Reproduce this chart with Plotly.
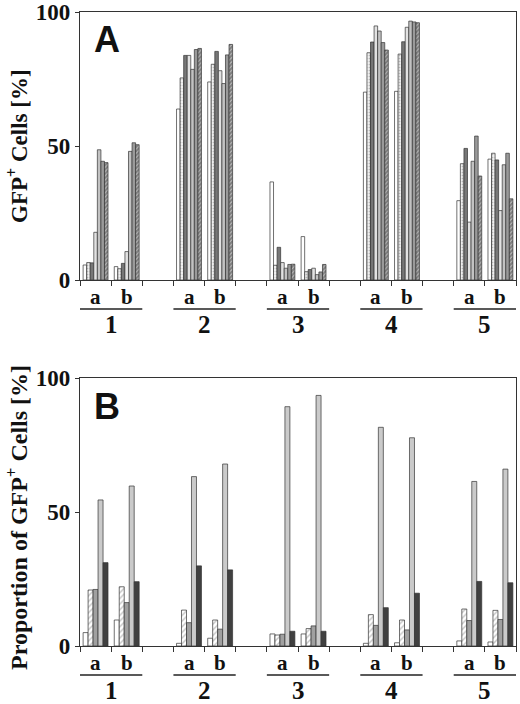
import plotly.graph_objects as go

# categorias: grupos 1-5, cada uno con subgrupos a y b
grupos = ['1', '2', '3', '4', '5']
subgrupos = ['a', 'b']

# Panel A: GFP+ Cells [%] (orden 1a,1b,2a,2b,...,5b)
a_bar1 = [5.6, 5.0, 63.8, 73.9, 36.6, 16.2, 70.1, 70.4, 29.6, 45.1]
a_bar2 = [6.5, 4.2, 75.4, 80.5, 5.5, 3.1, 84.8, 84.3, 43.4, 47.3]
a_bar3 = [6.4, 6.2, 83.8, 85.3, 12.2, 3.9, 88.8, 88.9, 49.1, 44.8]
a_bar4 = [17.8, 10.6, 83.8, 78.1, 6.5, 4.4, 94.8, 94.3, 21.6, 25.9]
a_bar5 = [48.6, 48.0, 78.6, 73.3, 4.4, 2.0, 92.9, 96.6, 44.3, 43.0]
a_bar6 = [44.3, 51.2, 86.0, 84.0, 5.8, 3.0, 88.6, 96.3, 53.7, 47.3]
a_bar7 = [43.8, 50.5, 86.4, 87.9, 5.9, 5.8, 85.8, 96.0, 38.8, 30.3]

# Panel B: Proportion of GFP+ Cells [%]
b_bar1 = [5.0, 9.7, 1.0, 2.9, 4.5, 4.5, 1.0, 1.2, 1.9, 1.5]
b_bar2 = [20.9, 22.1, 13.4, 9.7, 4.1, 6.5, 11.7, 9.7, 13.8, 13.3]
b_bar3 = [21.1, 16.2, 8.7, 6.3, 4.4, 7.5, 7.7, 6.0, 9.5, 9.9]
b_bar4 = [54.5, 59.7, 63.2, 67.9, 89.3, 93.5, 81.6, 77.7, 61.4, 66.0]
b_bar5 = [31.1, 24.0, 29.9, 28.4, 5.5, 5.5, 14.3, 19.7, 24.1, 23.6]

W, H = 520, 704
# posicion de cada subgrupo: 3 ranuras por grupo (a, b, hueco)
xpos = [3 * g + s + 0.5 for g in range(len(grupos)) for s in range(len(subgrupos))]

edge = dict(color='#333', width=0.7)
estilos_a = [
    dict(color='white'),
    dict(color='#f4f4f4', pattern=dict(shape='.', fgcolor='#777', size=3, solidity=0.3)),
    dict(color='#777777'),
    dict(color='#e2e2e2'),
    dict(color='#c2c2c2'),
    dict(color='#9a9a9a'),
    dict(color='white', pattern=dict(shape='/', fgcolor='#000', size=3, solidity=0.85)),
]
estilos_b = [
    dict(color='white'),
    dict(color='white', pattern=dict(shape='/', fgcolor='#888', size=4, solidity=0.35)),
    dict(color='#a0a0a0'),
    dict(color='#cacaca'),
    dict(color='#404040'),
]

fig = go.Figure()
for vals, st in zip([a_bar1, a_bar2, a_bar3, a_bar4, a_bar5, a_bar6, a_bar7], estilos_a):
    fig.add_trace(go.Bar(x=xpos, y=vals, marker=dict(line=edge, **st),
                         xaxis='x', yaxis='y', showlegend=False))
for vals, st in zip([b_bar1, b_bar2, b_bar3, b_bar4, b_bar5], estilos_b):
    fig.add_trace(go.Bar(x=xpos, y=vals, marker=dict(line=edge, **st),
                         xaxis='x2', yaxis='y2', showlegend=False))

serif = 'Liberation Serif'
ejex = dict(range=[0, 14], tickvals=list(range(15)), ticks='outside', ticklen=5,
            tickwidth=1.2, tickcolor='#333', showticklabels=False, showgrid=False,
            zeroline=False, showline=True, linecolor='#333', linewidth=1.3, mirror=True,
            automargin=False, domain=[80 / W, 516 / W])
ejey = dict(range=[0, 100], tickvals=[0, 50, 100], ticks='outside', ticklen=4,
            tickwidth=1.2, tickcolor='#333', showgrid=False, zeroline=False,
            showline=True, linecolor='#333', linewidth=1.3, mirror=True, automargin=False,
            tickfont=dict(family=serif, size=23, color='#111', weight='bold'))

def py(pix):
    return 1 - pix / H

fig.update_layout(
    width=W, height=H, margin=dict(l=0, r=0, t=0, b=0, pad=0),
    paper_bgcolor='white', plot_bgcolor='white',
    barmode='group', bargap=0.2, bargroupgap=0,
    xaxis=dict(anchor='y', **ejex),
    yaxis=dict(anchor='x', domain=[py(280), py(12)], **ejey),
    xaxis2=dict(anchor='y2', **ejex),
    yaxis2=dict(anchor='x2', domain=[py(646), py(378)], **ejey),
)

# etiquetas de paneles y titulos de eje
paneles = [('A', 'GFP<sup>+</sup> Cells [%]', 12, 280, 'x', 146, 23),
           ('B', 'Proportion of GFP<sup>+</sup> Cells [%]', 378, 646, 'x2', 518, 24)]
for letra, titulo, top, bot, xr, ymid, tsize in paneles:
    fig.add_annotation(text=letra, x=92 / W, y=py(top + 28), xref='paper', yref='paper',
                       xanchor='left', yanchor='middle', showarrow=False,
                       font=dict(family='Liberation Sans', size=36, color='#111', weight='bold'))
    fig.add_annotation(text=titulo, x=17 / W, y=py(ymid), xref='paper', yref='paper',
                       textangle=-90, xanchor='center', yanchor='middle', showarrow=False,
                       font=dict(family=serif, size=tsize, color='#111', weight='bold'))
    for i, x in enumerate(xpos):
        fig.add_annotation(text=subgrupos[i % 2], x=x, y=py(bot + 17), xref=xr, yref='paper',
                           xanchor='center', yanchor='middle', showarrow=False,
                           font=dict(family=serif, size=21, color='#111', weight='bold'))
    for g, nombre in enumerate(grupos):
        fig.add_shape(type='line', x0=3 * g, x1=3 * g + 2, y0=py(bot + 29), y1=py(bot + 29),
                      xref=xr, yref='paper', line=dict(color='#222', width=1.3))
        fig.add_annotation(text=nombre, x=3 * g + 1, y=py(bot + 44), xref=xr, yref='paper',
                           xanchor='center', yanchor='middle', showarrow=False,
                           font=dict(family=serif, size=25, color='#111', weight='bold'))

fig.write_html("out.html", config={'displayModeBar': False},
               post_script="document.body.style.margin='0';")
